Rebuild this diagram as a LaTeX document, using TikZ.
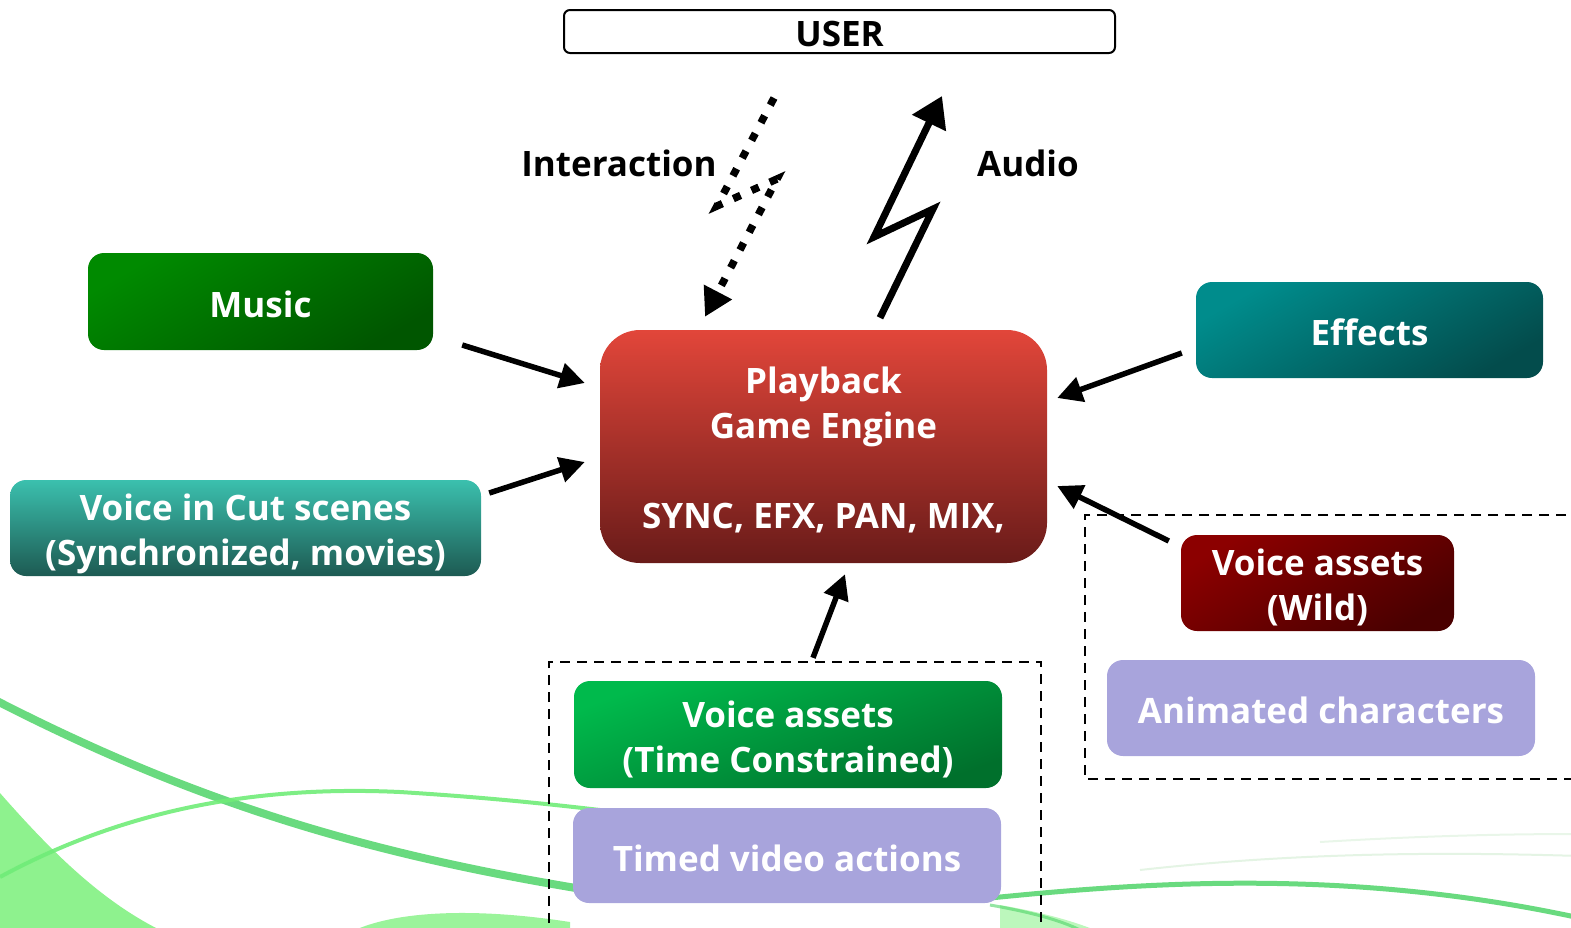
\documentclass[tikz,border=0pt]{standalone}
\usepackage{fontspec}
\setmainfont{Open Sans}
\usetikzlibrary{arrows.meta,calc}
\definecolor{lav}{HTML}{A8A4DC}
\definecolor{musicA}{HTML}{008A00}
\definecolor{musicB}{HTML}{005600}
\definecolor{cutA}{HTML}{3BC0AE}
\definecolor{cutB}{HTML}{1D5A52}
\definecolor{playA}{HTML}{E2463A}
\definecolor{playB}{HTML}{691B19}
\definecolor{effA}{HTML}{008C8C}
\definecolor{effB}{HTML}{034C4C}
\definecolor{wildA}{HTML}{8C0000}
\definecolor{wildB}{HTML}{4A0000}
\definecolor{vtcA}{HTML}{00BA4C}
\definecolor{vtcB}{HTML}{00702C}
\definecolor{swA}{HTML}{4FD468}
\definecolor{swB}{HTML}{70EC78}
\definecolor{swC}{HTML}{7AF07A}
\begin{document}
\begin{tikzpicture}[x=1pt,y=-1pt,
  box/.style={rounded corners=16pt, align=center, text=white, inner sep=0pt,
    font=\bfseries\fontsize{35}{45}\selectfont, text height=31pt, text depth=0pt},
  two/.style={text height=75pt, text depth=0pt},
  lbl/.style={text=black, inner sep=0pt, font=\bfseries\fontsize{35}{45}\selectfont},
  arr/.style={line width=5.5pt, -{Triangle[length=25pt,width=25pt]}},
  bolt/.style={line width=7pt, line join=miter, -{Triangle[length=30pt,width=36pt]}},
  dotbolt/.style={line width=7.5pt, dash pattern=on 8pt off 12pt, -{Triangle[length=28pt,width=30pt]}},
  group/.style={line width=2.5pt, dash pattern=on 10pt off 7pt}
]
\useasboundingbox (0,0) rectangle (1571,927);
\clip (0,0) rectangle (1571,927);
% background swooshes
\fill[swC, opacity=0.85] (0,793) .. controls (50,850) and (100,900) .. (160,930) -- (0,930) -- cycle;
\fill[swC, opacity=0.75] (355,930) .. controls (400,910) and (480,908) .. (570,922) -- (570,930) -- cycle;
\fill[swC, opacity=0.5] (1000,905) .. controls (1040,912) and (1070,920) .. (1095,930) -- (1000,930) -- cycle;
\draw[swA, line width=8pt, opacity=0.85] (-5,700) .. controls (200,805) and (380,860) .. (640,898);
\draw[swB, line width=4pt, opacity=0.9] (0,877) .. controls (120,812) and (250,785) .. (400,792) .. controls (480,797) and (540,803) .. (600,810);
\draw[swA, line width=5pt, opacity=0.85] (990,898) .. controls (1150,882) and (1350,868) .. (1580,918);
\draw[swA, line width=3pt, opacity=0.6] (990,905) .. controls (1030,912) and (1060,920) .. (1080,930);
\draw[green!40!gray, line width=2pt, opacity=0.15] (1140,870) .. controls (1300,852) and (1450,852) .. (1580,856);
\draw[green!40!gray, line width=2pt, opacity=0.12] (1320,842) .. controls (1420,836) and (1500,834) .. (1580,834);
% dashed groups
\draw[group] (1600,515) -- (1085,515) -- (1085,779) -- (1600,779);
\draw[group] (549,940) -- (549,662) -- (1041,662) -- (1041,940);
% nodes
\node[draw, line width=2pt, fill=white, rounded corners=6pt, minimum width=551pt, minimum height=43pt,
  inner sep=0pt, font=\bfseries\fontsize{35}{45}\selectfont, text height=29pt, text depth=0pt] (user) at (839.5,31.5) {USER};
\node[box, minimum width=345pt, minimum height=97pt, shading=axis, top color=musicA, bottom color=musicB, shading angle=30] (music) at (260.5,301.5) {Music};
\node[box, two, minimum width=471pt, minimum height=96pt, top color=cutA, bottom color=cutB] (cut) at (245.5,528) {Voice in Cut scenes\\(Synchronized, movies)};
\node[box, text height=164pt, text depth=0pt, rounded corners=40pt, minimum width=447pt, minimum height=233pt, top color=playA, bottom color=playB] (play) at (823.5,446.5) {Playback\\Game Engine\\[45pt]SYNC, EFX, PAN, MIX,};
\node[box, minimum width=347pt, minimum height=96pt, shading=axis, top color=effA, bottom color=effB, shading angle=30] (eff) at (1369.5,330) {Effects};
\node[box, two, minimum width=273pt, minimum height=96pt, shading=axis, top color=wildA, bottom color=wildB, shading angle=30] (wild) at (1317.5,583) {Voice assets\\(Wild)};
\node[box, minimum width=428pt, minimum height=96pt, fill=lav] (anim) at (1321,708) {Animated characters};
\node[box, two, minimum width=428pt, minimum height=107pt, shading=axis, top color=vtcA, bottom color=vtcB, shading angle=20] (vtc) at (788,734.5) {Voice assets\\(Time Constrained)};
\node[box, minimum width=428pt, minimum height=95pt, fill=lav] (timed) at (787,855.5) {Timed video actions};
\node[lbl] (inter) at (619,163) {Interaction};
\node[lbl] (audio) at (1028,163) {Audio};
% arrows
\draw[arr] ($(music.east)+(29,43.5)$) -- ($(play.west)+(-15,-63.5)$);
\draw[arr] ($(cut.east)+(8,-35)$) -- ($(play.west)+(-15,15.5)$);
\draw[arr] ($(eff.west)+(-14,23)$) -- ($(play.east)+(10,-48.5)$);
\draw[arr] ($(wild.west)+(-12,-42)$) -- ($(play.east)+(10,39.5)$);
\draw[arr] ($(vtc.north)+(25,-23)$) -- ($(play.south)+(21.5,11)$);
\draw[bolt] ($(play.north)+(56.5,-12)$) -- ($(user.south)+(93.5,155)$) -- ($(user.south)+(34.5,183)$) -- ($(user.south)+(102.5,42)$);
\draw[dotbolt] ($(user.south)+(-65.5,44)$) -- ($(user.south)+(-122.5,152)$) -- ($(user.south)+(-62.5,125)$) -- ($(play.north)+(-118.5,-13)$);
\end{tikzpicture}
\end{document}
